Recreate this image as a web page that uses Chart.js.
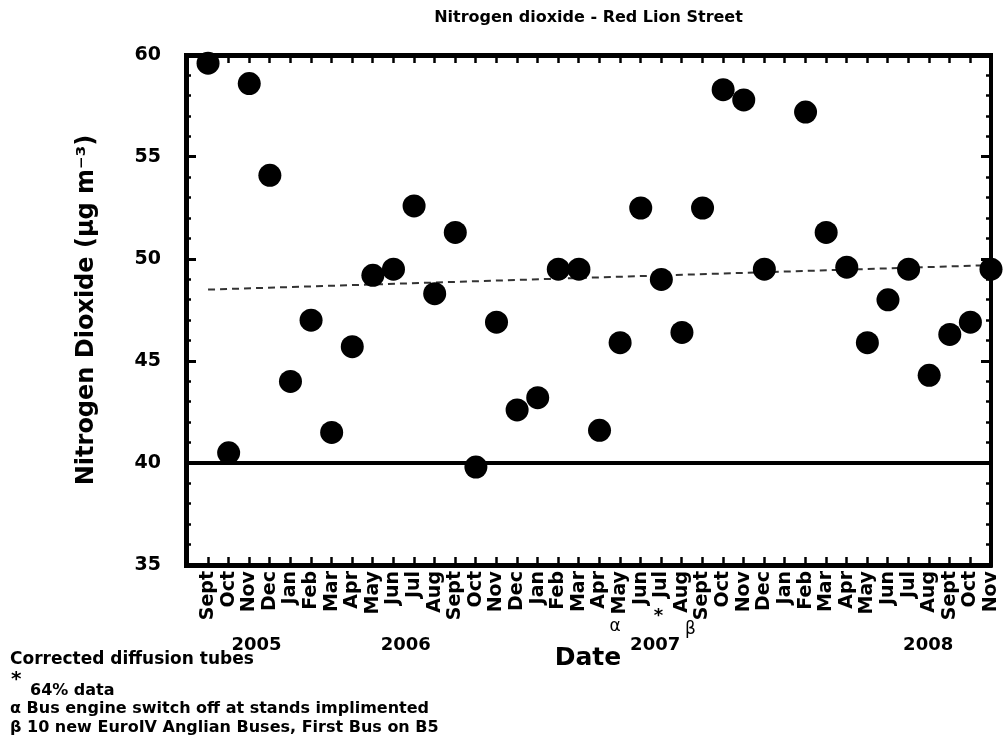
<!DOCTYPE html>
<html>
<head>
<meta charset="utf-8">
<script src="https://cdn.jsdelivr.net/npm/chart.js@4.4.1/dist/chart.umd.min.js"></script>
<style>
  html, body { margin: 0; padding: 0; background: #fff; }
</style>
</head>
<body>
<canvas id="no2Chart" width="1004" height="740"></canvas>
<script>
// monthly NO2 readings, Sept 2005 - Nov 2008 (Jan 2008 missing)
const months = ['Sept', 'Oct', 'Nov', 'Dec',
    'Jan', 'Feb', 'Mar', 'Apr', 'May', 'Jun', 'Jul', 'Aug', 'Sept', 'Oct', 'Nov', 'Dec',
    'Jan', 'Feb', 'Mar', 'Apr', 'May', 'Jun', 'Jul', 'Aug', 'Sept', 'Oct', 'Nov', 'Dec',
    'Jan', 'Feb', 'Mar', 'Apr', 'May', 'Jun', 'Jul', 'Aug', 'Sept', 'Oct', 'Nov'];
const no2 = [59.6, 40.5, 58.6, 54.1,
    44.0, 47.0, 41.5, 45.7, 49.2, 49.5, 52.6, 48.3, 51.3, 39.8, 46.9, 42.6,
    43.2, 49.5, 49.5, 41.6, 45.9, 52.5, 49.0, 46.4, 52.5, 58.3, 57.8, 49.5,
    null, 57.2, 51.3, 49.6, 45.9, 48.0, 49.5, 44.3, 46.3, 46.9, 49.5];
const years = ['2005', '2006', '2007', '2008'];
const trendEnds = [48.5, 49.7];   // dashed trend, first and last month
const limitValue = 40;            // annual mean objective
const notes = ['Corrected diffusion tubes', '64% data',
    'α Bus engine switch off at stands implimented',
    'β 10 new EuroIV Anglian Buses, First Bus on B5'];

const FONT = '"DejaVu Sans", "Liberation Sans", Arial, sans-serif';
const xMin = -1.07;
const xMax = months.length - 1;

const points = [];
no2.forEach((v, i) => { if (v !== null) points.push({ x: i, y: v }); });

const isMajor = c => c.tick && c.tick.value % 5 === 0;

const textPlugin = {
    id: 'textPlugin',
    afterDraw(chart) {
        const { ctx, chartArea, scales } = chart;
        const x = scales.x;
        ctx.save();
        ctx.fillStyle = '#000';
        ctx.textBaseline = 'middle';
        ctx.textAlign = 'center';

        ctx.font = 'bold 16px ' + FONT;
        ctx.fillText('Nitrogen dioxide - Red Lion Street', (chartArea.left + chartArea.right) / 2, 18);

        ctx.font = 'bold 18px ' + FONT;
        const yearPos = [2.35, 9.6, 21.7, 34.95];
        years.forEach((t, i) => ctx.fillText(t, x.getPixelForValue(yearPos[i]), 645));

        ctx.font = 'bold 25px ' + FONT;
        ctx.fillText('Date', 588, 658);

        // markers under the month labels
        ctx.font = 'bold 18px ' + FONT;
        ctx.fillText('*', x.getPixelForValue(22) - 3, 616);
        ctx.font = '17px ' + FONT;
        ctx.fillText('α', x.getPixelForValue(20) - 5, 627);
        ctx.fillText('β', x.getPixelForValue(24) - 12, 630);

        // notes, bottom left
        ctx.textAlign = 'left';
        ctx.font = 'bold 17px ' + FONT;
        ctx.fillText(notes[0], 10, 660);
        ctx.font = 'bold 20px ' + FONT;
        ctx.fillText('*', 11, 680);
        ctx.font = 'bold 16px ' + FONT;
        ctx.fillText(notes[1], 30, 691);
        ctx.fillText(notes[2], 10, 709);
        ctx.fillText(notes[3], 10, 728);
        ctx.restore();
    }
};

const ctxNo2 = document.getElementById('no2Chart').getContext('2d');
const no2Chart = new Chart(ctxNo2, {
    type: 'scatter',
    data: {
        datasets: [
            {
                label: 'NO2',
                data: points,
                backgroundColor: '#000',
                borderWidth: 0,
                pointRadius: 11.5,
                pointHoverRadius: 11.5,
                clip: false
            },
            {
                type: 'line',
                label: 'Trend',
                data: [{ x: 0, y: trendEnds[0] }, { x: xMax, y: trendEnds[1] }],
                borderColor: '#333',
                borderWidth: 2,
                borderDash: [7, 5],
                pointRadius: 0
            },
            {
                type: 'line',
                label: 'Objective',
                data: [{ x: xMin, y: limitValue }, { x: xMax, y: limitValue }],
                borderColor: '#000',
                borderWidth: 4,
                pointRadius: 0
            }
        ]
    },
    options: {
        responsive: false,
        animation: false,
        layout: { padding: { top: 55, right: 13, left: 0, bottom: 0 } },
        scales: {
            x: {
                type: 'linear',
                position: 'bottom',
                min: xMin,
                max: xMax,
                afterBuildTicks: s => { s.ticks = months.map((m, i) => ({ value: i })); },
                afterFit: s => { s.height = 175; s.paddingLeft = 0; s.paddingRight = 0; },
                border: { display: true, color: '#000', width: 5 },
                grid: { drawOnChartArea: false, tickLength: -8, tickColor: '#000', tickWidth: 2.5 },
                ticks: {
                    autoSkip: false,
                    minRotation: 90,
                    maxRotation: 90,
                    padding: 14,
                    color: '#000',
                    font: { family: FONT, size: 19, weight: 'bold' },
                    callback: v => months[v]
                }
            },
            x2: {
                type: 'linear',
                position: 'top',
                min: xMin,
                max: xMax,
                afterBuildTicks: s => { s.ticks = months.map((m, i) => ({ value: i })); },
                afterFit: s => { s.height = 0; s.paddingLeft = 0; s.paddingRight = 0; },
                border: { display: true, color: '#000', width: 5 },
                grid: { drawOnChartArea: false, tickLength: -8, tickColor: '#000', tickWidth: 2.5 },
                ticks: { display: false }
            },
            y: {
                min: 35,
                max: 60,
                afterFit: s => { s.width = 186; },
                border: { display: true, color: '#000', width: 5 },
                grid: {
                    drawOnChartArea: false,
                    tickLength: -10,
                    tickColor: '#000',
                    tickWidth: c => isMajor(c) ? 3 : 2.5,
                    tickBorderDash: c => isMajor(c) ? [] : [0, 5, 50, 0]
                },
                ticks: {
                    stepSize: 1,
                    autoSkip: false,
                    padding: 35,
                    color: '#000',
                    font: { family: FONT, size: 19, weight: 'bold' },
                    callback: v => v % 5 === 0 ? v : ''
                },
                title: {
                    display: true,
                    text: 'Nitrogen Dioxide (μg m⁻³)',
                    color: '#000',
                    font: { family: FONT, size: 24, weight: 'bold' },
                    padding: { top: 72, bottom: 0 }
                }
            },
            y2: {
                position: 'right',
                min: 35,
                max: 60,
                afterFit: s => { s.width = 0; },
                border: { display: true, color: '#000', width: 4 },
                grid: {
                    drawOnChartArea: false,
                    tickLength: -10,
                    tickColor: '#000',
                    tickWidth: c => isMajor(c) ? 3 : 2.5,
                    tickBorderDash: c => isMajor(c) ? [] : [7, 50]
                },
                ticks: { display: false, stepSize: 1, autoSkip: false }
            }
        },
        plugins: {
            legend: { display: false },
            tooltip: { enabled: false }
        }
    },
    plugins: [textPlugin]
});
</script>
</body>
</html>
